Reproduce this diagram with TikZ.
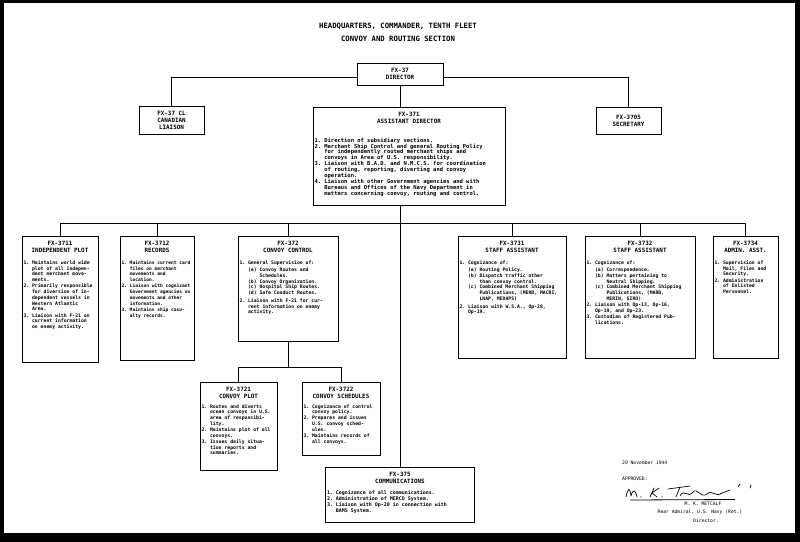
\documentclass[tikz,border=0pt]{standalone}
\usepackage{fontspec}
\setmonofont{DejaVu Sans Mono}
\usetikzlibrary{positioning}

% fonts of the chart
\newcommand{\headfont}{\ttfamily\bfseries\fontsize{7.3}{9}\selectfont}
\newcommand{\titlefont}{\ttfamily\bfseries\fontsize{5.9}{7}\selectfont}
\newcommand{\bodyfont}{\ttfamily\fontsize{4.8}{5.75}\selectfont}
\newcommand{\signfont}{\ttfamily\fontsize{4.7}{7}\selectfont}

% numbered duties and lettered sub-duties
\newcommand{\numpt}[2]{\par\vspace{0.5bp}\hangindent=1.8em\hangafter=1\noindent\makebox[1.8em][l]{#1}#2}
\newcommand{\subpt}[2]{\par\hangindent=4.2em\hangafter=1\noindent\hspace*{1.8em}\makebox[2.4em][l]{#1}#2}

% box text: width, height, gap under title, title, duties
\newcommand{\unitbox}[5]{%
  \parbox[t][\dimexpr#2bp-10bp\relax][t]{\dimexpr#1bp-3bp\relax}{%
    \centering\titlefont #4\par\vspace{#3bp}%
    \raggedright\bodyfont\let\\\newline #5\par}}

\tikzset{
  unit/.style={draw, line width=0.9bp, anchor=north, inner xsep=1.5bp, inner ysep=5bp},
  topunit/.style={draw, line width=0.9bp, align=center, font=\titlefont, inner sep=1bp},
  wire/.style={line width=0.8bp},
  heading/.style={font=\headfont, inner sep=0pt},
  sign/.style={font=\signfont, inner sep=0pt, anchor=base west},
  ink/.style={line width=0.7bp, line cap=round, line join=round}
}

\begin{document}
\begin{tikzpicture}[x=1bp, y=-1bp]
    % Sheet with its dark scan edge
    \fill[black] (0,0) rectangle (800,542);
    \fill[white] (4,3) rectangle (795,533);
    \useasboundingbox (0,0) rectangle (800,542);

    % Heading
    \node[heading] (hq) at (398,26) {HEADQUARTERS, COMMANDER, TENTH FLEET};
    \node[heading] (crs) at (398,39) {CONVOY AND ROUTING SECTION};

    % Director and his staff
    \node[topunit, minimum width=86bp, minimum height=22bp] (dir) at (400,74) {FX-37\\DIRECTOR};
    \node[topunit, anchor=north, minimum width=65bp, minimum height=28bp] (cl) at (171.5,106) {FX-37 CL\\CANADIAN\\LIAISON};
    \node[topunit, anchor=north, minimum width=65bp, minimum height=27bp] (sec) at (628.5,107) {FX-3705\\SECRETARY};

    \node[unit] (asst) at (409,107) {\unitbox{192}{98}{12}{FX-371\\ASSISTANT DIRECTOR}{\fontsize{5.5}{5.75}\selectfont
      \numpt{1.}{Direction of subsidiary sections.}
      \numpt{2.}{Merchant Ship Control and general Routing Policy\\for independently routed merchant ships and\\convoys in Area of U.S. responsibility.}
      \numpt{3.}{Liaison with B.A.D. and N.M.C.S. for coordination\\of routing, reporting, diverting and convoy\\operation.}
      \numpt{4.}{Liaison with other Government agencies and with\\Bureaus and Offices of the Navy Department in\\matters concerning convoy, routing and control.}}};

    % Sections under the assistant director
    \node[unit] (u3711) at (60,236) {\unitbox{76}{126}{5.5}{FX-3711\\INDEPENDENT PLOT}{%
      \numpt{1.}{Maintains world wide\\plot of all indepen-\\dent merchant move-\\ments.}
      \numpt{2.}{Primarily responsible\\for diversion of in-\\dependent vessels in\\Western Atlantic\\Area.}
      \numpt{3.}{Liaison with F-21 on\\current information\\on enemy activity.}}};

    \node[unit] (u3712) at (157,236) {\unitbox{74}{124}{5.5}{FX-3712\\RECORDS}{\fontsize{4.6}{5.75}\selectfont
      \numpt{1.}{Maintains current card\\files on merchant\\movements and location.}
      \numpt{2.}{Liaison with cognizant\\Government agencies on\\movements and other\\information.}
      \numpt{3.}{Maintains ship casu-\\alty records.}}};

    \node[unit] (u372) at (288,236) {\unitbox{100}{105}{5.5}{FX-372\\CONVOY CONTROL}{%
      \numpt{1.}{General Supervision of:}
      \vspace{1.5bp}
      \subpt{(a)}{Convoy Routes and\\Schedules.}
      \subpt{(b)}{Convoy Organization.}
      \subpt{(c)}{Hospital Ship Routes.}
      \subpt{(d)}{Safe Conduct Routes.}
      \vspace{1.5bp}
      \numpt{2.}{Liaison with F-21 for cur-\\rent information on enemy\\activity.}}};

    \node[unit] (u3731) at (512,236) {\unitbox{108}{122}{5.5}{FX-3731\\STAFF ASSISTANT}{%
      \numpt{1.}{Cognizance of:}
      \vspace{1.5bp}
      \subpt{(a)}{Routing Policy.}
      \subpt{(b)}{Dispatch traffic other\\than convoy control.}
      \subpt{(c)}{Combined Merchant Shipping\\Publications, (MERB, MACRI,\\LNAP, MEDAPS)}
      \vspace{1.5bp}
      \numpt{2.}{Liaison with W.S.A., Op-28,\\Op-19.}}};

    \node[unit] (u3732) at (640,236) {\unitbox{110}{122}{5.5}{FX-3732\\STAFF ASSISTANT}{%
      \numpt{1.}{Cognizance of:}
      \vspace{1.5bp}
      \subpt{(a)}{Correspondence.}
      \subpt{(b)}{Matters pertaining to\\Neutral Shipping.}
      \subpt{(c)}{Combined Merchant Shipping\\Publications, (MARB,\\MERIN, GIRO)}
      \numpt{2.}{Liaison with Op-13, Op-16,\\Op-19, and Op-23.}
      \numpt{3.}{Custodian of Registered Pub-\\lications.}}};

    \node[unit] (u3734) at (745.5,236) {\unitbox{65}{122}{5.5}{FX-3734\\ADMIN. ASST.}{%
      \numpt{1.}{Supervision of\\Mail, Files and\\Security.}
      \numpt{2.}{Administration\\of Enlisted\\Personnel.}}};

    % Convoy control sub-sections
    \node[unit] (u3721) at (238.5,382) {\unitbox{77}{88}{3}{FX-3721\\CONVOY PLOT}{%
      \numpt{1.}{Routes and diverts\\ocean convoys in U.S.\\area of responsibi-\\lity.}
      \numpt{2.}{Maintains plot of all\\convoys.}
      \numpt{3.}{Issues daily situa-\\tion reports and\\summaries.}}};

    \node[unit] (u3722) at (341,382) {\unitbox{78}{73}{3}{FX-3722\\CONVOY SCHEDULES}{%
      \numpt{1.}{Cognizance of control\\convoy policy.}
      \numpt{2.}{Prepares and issues\\U.S. convoy sched-\\ules.}
      \numpt{3.}{Maintains records of\\all convoys.}}};

    % Communications
    \node[unit] (comm) at (400,467) {\unitbox{149}{55}{4}{FX-375\\COMMUNICATIONS}{\fontsize{5}{5.75}\selectfont
      \numpt{1.}{Cognizance of all communications.}
      \numpt{2.}{Administration of MERCO System.}
      \numpt{3.}{Liaison with Op-20 in connection with\\BAMS System.}}};

    % Connections
    \draw[wire] ([yshift=-3bp]dir.west) -| (cl.north);
    \draw[wire] ([yshift=-3bp]dir.east) -| (sec.north);
    \draw[wire] (dir.south) -- (dir.south |- asst.north);
    \draw[wire] (dir.south |- asst.south) -- (comm.north);

    \coordinate (bus) at (400,223);
    \draw[wire] (u3711.north |- bus) -- (u3734.north |- bus);
    \foreach \u in {u3711,u3712,u372,u3731,u3732,u3734}
        \draw[wire] (\u.north) -- (\u.north |- bus);

    \coordinate (subbus) at (288,367);
    \draw[wire] (u372.south) -- (u372.south |- subbus);
    \draw[wire] (u3721.north |- subbus) -- (u3722.north |- subbus);
    \foreach \u in {u3721,u3722}
        \draw[wire] (\u.north) -- (\u.north |- subbus);

    % Approval block
    \node[sign] (date) at (622,464) {20 November 1944};
    \node[sign] (appr) at (622,480) {APPROVED:};
    \draw[ink] (626,497) .. controls (628,487) and (630,487) .. (631,496)
               .. controls (633,489) and (635,489) .. (637,497);
    \fill (641,497) circle (0.6);
    \draw[ink] (650,497) -- (654,488) (652,493) .. controls (655,490) .. (659,488) (652,493) -- (657,497);
    \fill (662,497) circle (0.6);
    \draw[ink] (668,489) -- (690,486) (680,487) -- (676,497);
    \draw[ink] (680,496) .. controls (684,488) and (688,499) .. (693,492)
               .. controls (697,487) and (701,499) .. (707,494)
               .. controls (712,489) and (716,498) .. (722,493) -- (730,490);
    \draw[ink] (738,487) -- (740,484) (750,488) -- (751,485);
    \draw[wire] (630,500) -- (735,499.5);
    \node[sign, anchor=base] (name) at (703,505) {M. K. METCALF};
    \node[sign, anchor=base] (rank) at (700,513) {Rear Admiral, U.S. Navy (Ret.)};
    \node[sign, anchor=base] (role) at (706,522) {Director.};
\end{tikzpicture}
\end{document}
